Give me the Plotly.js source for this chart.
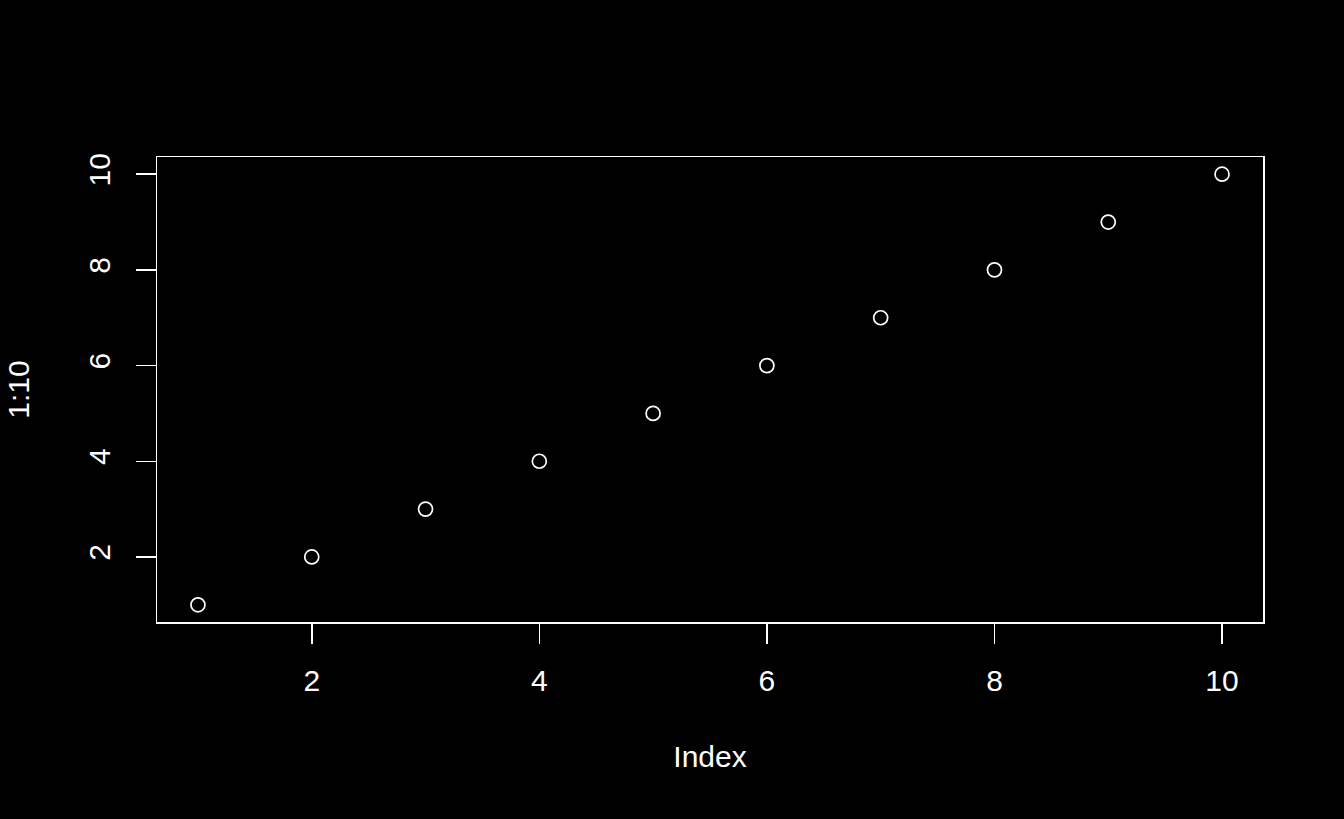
<!DOCTYPE html>
<html>
<head>
<meta charset="utf-8">
<script src="https://cdn.plot.ly/plotly-3.0.1.min.js"></script>
<style>html,body{margin:0;padding:0;background:#000;}#plot{width:1344px;height:819px;}</style>
</head>
<body>
<div id="plot"></div>
<script>
const indexValues = [1, 2, 3, 4, 5, 6, 7, 8, 9, 10];
const seriesValues = [1, 2, 3, 4, 5, 6, 7, 8, 9, 10];
const xTickValues = [2, 4, 6, 8, 10];
const yTickValues = [2, 4, 6, 8, 10];
const xTitle = "Index";
const yTitle = "1:10";

const FONT = "Liberation Sans, Arial, sans-serif";
const FS = 30;

const trace = {
  x: indexValues,
  y: seriesValues,
  type: "scatter",
  mode: "markers",
  marker: {symbol: "circle-open", size: 14, color: "#ffffff", line: {width: 1.7, color: "#ffffff"}},
  hoverinfo: "none"
};

const axisCommon = {
  showgrid: false,
  zeroline: false,
  showline: true,
  mirror: true,
  linecolor: "#ffffff",
  linewidth: 1.5,
  ticks: "outside",
  ticklen: 20,
  tickwidth: 1.5,
  tickcolor: "#ffffff",
  tickmode: "array",
  tickfont: {family: FONT, size: FS, color: "#ffffff"},
  automargin: false
};

const layout = {
  width: 1344,
  height: 819,
  paper_bgcolor: "#000000",
  plot_bgcolor: "#000000",
  showlegend: false,
  margin: {l: 157, r: 81, t: 157, b: 197, pad: 0},
  font: {family: FONT, color: "#ffffff", size: FS},
  xaxis: Object.assign({}, axisCommon, {
    range: [0.64, 10.36],
    tickvals: xTickValues,
    ticktext: xTickValues.map(String),
    ticklabelstandoff: 11,
    title: {text: xTitle, font: {family: FONT, size: FS, color: "#ffffff"}, standoff: 50}
  }),
  yaxis: Object.assign({}, axisCommon, {
    range: [0.64, 10.36],
    tickvals: yTickValues,
    ticktext: yTickValues.map(String),
    tickangle: -90,
    ticklabelstandoff: 14,
    title: {text: yTitle, font: {family: FONT, size: FS, color: "#ffffff"}, standoff: 44}
  })
};

Plotly.newPlot("plot", [trace], layout, {displayModeBar: false, staticPlot: true});
</script>
</body>
</html>
